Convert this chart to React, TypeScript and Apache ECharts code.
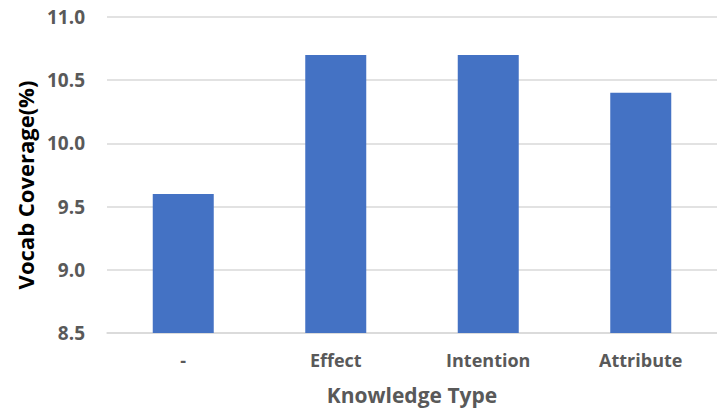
import React, { useEffect, useRef } from "react";
import * as echarts from "echarts";

const categories = ["-", "Effect", "Intention", "Attribute"];
const coverage = [9.6, 10.7, 10.7, 10.4];
const yTitle = "Vocab Coverage(%)";
const xTitle = "Knowledge Type";

const FONT = "'Open Sans', sans-serif";

export default function App() {
  const ref = useRef<HTMLDivElement>(null);

  useEffect(() => {
    if (!ref.current) return;
    const chart = echarts.init(ref.current, undefined, { renderer: "svg" });
    chart.setOption({
      animation: false,
      grid: { left: 107, right: -4, top: 17, bottom: 84 },
      graphic: [
        {
          type: "text",
          x: 25,
          y: 185,
          rotation: Math.PI / 2,
          style: {
            text: yTitle,
            fill: "#000",
            font: `bold 22px ${FONT}`,
            align: "center",
            verticalAlign: "middle",
          },
        },
      ],
      xAxis: {
        type: "category",
        data: categories,
        name: xTitle,
        nameLocation: "middle",
        nameGap: 51,
        nameTextStyle: { color: "#595959", fontSize: 21, fontWeight: "bold", fontFamily: FONT },
        axisLine: { lineStyle: { color: "#d9d9d9", width: 1.5 } },
        axisTick: { show: false },
        axisLabel: { color: "#595959", fontSize: 18, fontWeight: "bold", fontFamily: FONT, margin: 18 },
      },
      yAxis: {
        type: "value",
        min: 8.5,
        max: 11,
        interval: 0.5,
        axisLine: { show: false },
        axisTick: { show: false },
        splitLine: { lineStyle: { color: "#d9d9d9", width: 1.5 } },
        axisLabel: {
          color: "#595959",
          fontSize: 19,
          fontWeight: "bold",
          fontFamily: FONT,
          margin: 22,
          formatter: (v: number) => v.toFixed(1),
        },
      },
      series: [
        {
          type: "bar",
          data: coverage,
          barWidth: "40%",
          itemStyle: { color: "#4472c4" },
        },
      ],
    });
    return () => chart.dispose();
  }, []);

  return <div ref={ref} style={{ width: 717, height: 417, position: "absolute", left: 0, top: 0 }} />;
}
